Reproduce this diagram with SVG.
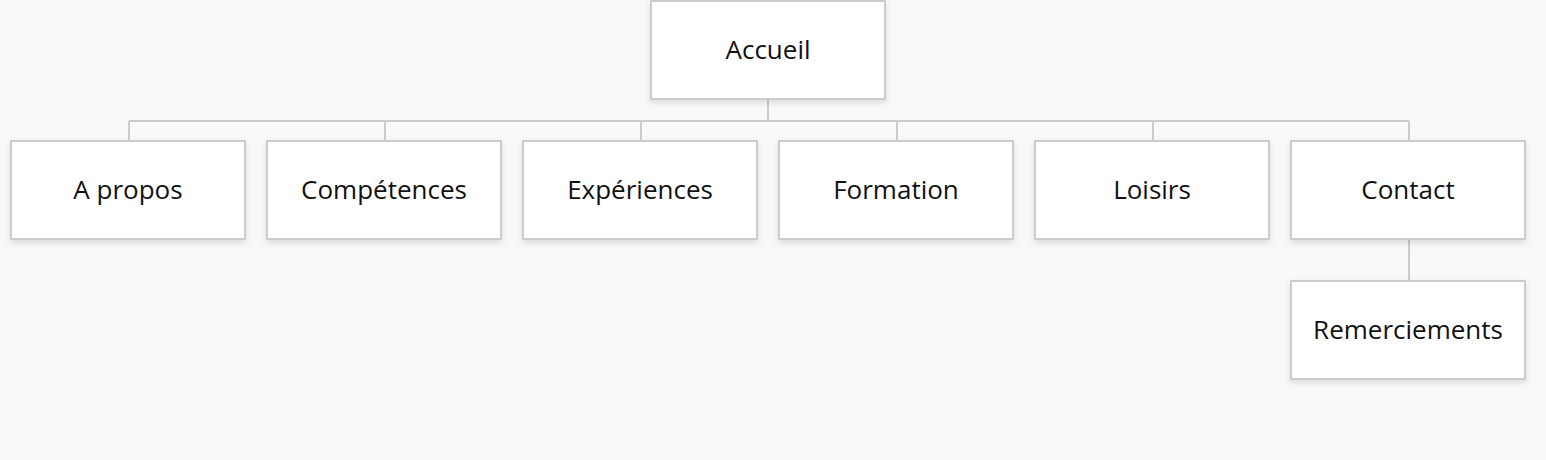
<svg xmlns="http://www.w3.org/2000/svg" width="1546" height="460" viewBox="0 0 1546 460">
<defs>
<filter id="sh" x="-10%" y="-10%" width="120%" height="130%">
<feDropShadow dx="0" dy="3" stdDeviation="3" flood-color="#000" flood-opacity="0.12"/>
</filter>
</defs>
<style>
.box{fill:#fff;stroke:#cccccc;stroke-width:2;filter:url(#sh)}
.lbl{font-family:"Open Sans",sans-serif;font-size:26px;fill:#111;text-anchor:middle;dominant-baseline:central}
.c{fill:none;stroke:#cccccc;stroke-width:2}
</style>
<rect width="1546" height="460" fill="#f8f9fb"/>
<g id="connectors">
<path class="c" d="M768 99V121M129 121H1409M129 121V141M385 121V141M641 121V141M897 121V141M1153 121V141M1409 121V141M1409 239V281"/>
</g>
<g id="accueil"><rect class="box" x="651" y="1" width="234" height="98"/><text class="lbl" x="768" y="49">Accueil</text></g>
<g id="apropos"><rect class="box" x="11" y="141" width="234" height="98"/><text class="lbl" x="128" y="189">A propos</text></g>
<g id="competences"><rect class="box" x="267" y="141" width="234" height="98"/><text class="lbl" x="384" y="189">Compétences</text></g>
<g id="experiences"><rect class="box" x="523" y="141" width="234" height="98"/><text class="lbl" x="640" y="189">Expériences</text></g>
<g id="formation"><rect class="box" x="779" y="141" width="234" height="98"/><text class="lbl" x="896" y="189">Formation</text></g>
<g id="loisirs"><rect class="box" x="1035" y="141" width="234" height="98"/><text class="lbl" x="1152" y="189">Loisirs</text></g>
<g id="contact"><rect class="box" x="1291" y="141" width="234" height="98"/><text class="lbl" x="1408" y="189">Contact</text></g>
<g id="remerciements"><rect class="box" x="1291" y="281" width="234" height="98"/><text class="lbl" x="1408" y="329">Remerciements</text></g>
</svg>
